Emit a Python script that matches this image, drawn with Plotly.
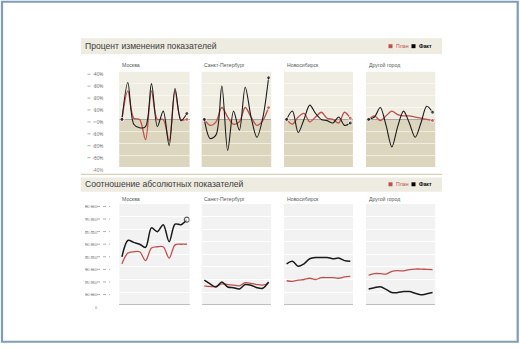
import plotly.graph_objects as go

W, H = 520, 350

cities = ["Москва", "Санкт-Петербург", "Новосибирск", "Другой город"]
months = list(range(12))

# Percent change (top row)
pct_plan = {
    "Москва": [0, 24, 1, 0, -17, 24, 0, 0, -18, 24, 0, 0],
    "Санкт-Петербург": [0, -5, -2, 10, 2, -4, -2, 10, 2, -5, -1, 10],
    "Новосибирск": [0, -4, 2, 5, -2, 2, 6, 1, 0, -3, 6, 1],
    "Другой город": [0, 3, -1, 3, 7, 4, 3, 3, 2, 1, 0, -1],
}
pct_fact = {
    "Москва": [0, 31, -4, -7, -6, 30, -6, 7, -22, 26, -1, 5],
    "Санкт-Петербург": [0, -16, -13, 28, -26, 7, -9, 27, 2, -15, 1, 35],
    "Новосибирск": [0, 7, -11, 0, 12, 5, 0, -1, -3, 2, -5, -3],
    "Другой город": [0, 2, 10, -5, -23, -6, 7, -3, -15, -3, 11, 6],
}

# Absolute values (bottom row)
abs_plan = {
    "Москва": [32500, 41000, 42000, 42000, 35000, 45000, 46000, 46000, 37000, 47500, 48000, 48000],
    "Санкт-Петербург": [15000, 14500, 14500, 16500, 16000, 15500, 15000, 17500, 17000, 16000, 15500, 17000],
    "Новосибирск": [19000, 18500, 19500, 20000, 21000, 20000, 21500, 21500, 21500, 21000, 22000, 22500],
    "Другой город": [23500, 24700, 24700, 24300, 26500, 27000, 26800, 27800, 28300, 28300, 28000, 27800],
}
abs_fact = {
    "Москва": [38000, 51000, 49500, 48000, 45500, 61000, 58000, 63500, 50000, 64000, 63500, 67500],
    "Санкт-Петербург": [19500, 16500, 14000, 18000, 14000, 13500, 12500, 16000, 15500, 13500, 13000, 18000],
    "Новосибирск": [32500, 34500, 30500, 32500, 36500, 37500, 37500, 37500, 36500, 37000, 35000, 34500],
    "Другой город": [12500, 13500, 14300, 12200, 9600, 9600, 10400, 10400, 9100, 7800, 8600, 9600],
}

pct_ticks = [-40, -30, -20, -10, 0, 10, 20, 30, 40]
pct_labels = ["-40%", "-30%", "-20%", "-10%", "0%", "10%", "20%", "30%", "40%"]
abs_ticks = [0, 10000, 20000, 30000, 40000, 50000, 60000, 70000, 80000]
abs_labels = ["0", "10 000", "20 000", "30 000", "40 000", "50 000", "60 000", "70 000", "80 000"]

title_top = "Процент изменения показателей"
title_bottom = "Соотношение абсолютных показателей"
legend_plan = "План"
legend_fact = "Факт"

PLAN_C = "#c0504d"
FACT_C = "#1a1a1a"
FONT = "Liberation Sans"

panel_x = [(119.3, 189.5), (201.7, 271.2), (284.0, 352.9), (366.0, 435.2)]
top_y = (73, 170)
bot_y = (207.5, 310)


def px(x):
    return x / W


def py(y):
    return 1 - y / H


fig = go.Figure()
layout = {}
shapes = []
annotations = []

top_unit = 80 / (top_y[1] - top_y[0])       # data units per pixel (top)
bot_unit = 80000 / (bot_y[1] - bot_y[0])    # data units per pixel (bottom)

for i, city in enumerate(cities):
    for row in (0, 1):
        n = i + 1 + row * 4
        xa = "x" if n == 1 else f"x{n}"
        ya = "y" if n == 1 else f"y{n}"
        xkey = "xaxis" if n == 1 else f"xaxis{n}"
        ykey = "yaxis" if n == 1 else f"yaxis{n}"
        x0, x1 = panel_x[i]
        yt, yb = top_y if row == 0 else bot_y
        layout[xkey] = dict(domain=[px(x0), px(x1)], anchor=ya, range=[-0.45, 11.45],
                            showgrid=False, zeroline=False, showticklabels=False,
                            showline=False, ticks="", fixedrange=True)
        first = (i == 0)
        if row == 0:
            layout[ykey] = dict(domain=[py(yb), py(yt)], anchor=xa, range=[-40, 40],
                                tickvals=pct_ticks, ticktext=pct_labels,
                                showticklabels=first, ticks="",
                                showgrid=True, gridcolor="rgba(255,255,255,0.55)", gridwidth=1,
                                zeroline=True, zerolinecolor="#a6a6a6", zerolinewidth=1,
                                showline=False, ticklabelstandoff=15, ticklabelshift=3,
                                tickfont=dict(family=FONT, size=4.6, color="#7f7f7f"),
                                fixedrange=True)
            shapes.append(dict(type="rect", xref=f"{xa} domain", yref=ya, x0=0, x1=1, y0=0, y1=40,
                               fillcolor="#f0ede2", line_width=0, layer="below"))
            shapes.append(dict(type="rect", xref=f"{xa} domain", yref=ya, x0=0, x1=1, y0=-40, y1=0,
                               fillcolor="#dcd6bf", line_width=0, layer="below"))
            plan = pct_plan[city]
            fact = pct_fact[city]
            msz = [4] + [0] * (len(months) - 2) + [4]
            fig.add_trace(go.Scatter(x=months, y=plan, xaxis=xa, yaxis=ya, mode="lines+markers",
                                     line=dict(color=PLAN_C, width=1.3, shape="spline", smoothing=0.9),
                                     marker=dict(size=msz, color=PLAN_C), showlegend=False,
                                     hoverinfo="skip"))
            fig.add_trace(go.Scatter(x=months, y=fact, xaxis=xa, yaxis=ya, mode="lines+markers",
                                     line=dict(color=FACT_C, width=1.1, shape="spline", smoothing=0.9),
                                     marker=dict(size=msz, color=FACT_C), showlegend=False,
                                     hoverinfo="skip"))
            if first:
                for t in pct_ticks:
                    yy = t - 2.5 * top_unit
                    shapes.append(dict(type="line", xref="paper", yref=ya, x0=px(87.5), x1=px(102.5),
                                       y0=yy, y1=yy,
                                       line=dict(color="#8c8c8c", width=0.7, dash="dot")))
        else:
            layout[ykey] = dict(domain=[py(yb), py(yt)], anchor=xa, range=[0, 80000],
                                tickvals=abs_ticks, ticktext=abs_labels,
                                showticklabels=first, ticks="",
                                showgrid=True, gridcolor="#ffffff", gridwidth=1,
                                zeroline=True, zerolinecolor="#bfbfbf", zerolinewidth=1,
                                showline=False, ticklabelstandoff=21, ticklabelshift=3,
                                tickfont=dict(family=FONT, size=4.0, color="#7f7f7f"),
                                fixedrange=True)
            plan = abs_plan[city]
            fact = abs_fact[city]
            fig.add_trace(go.Scatter(x=months, y=plan, xaxis=xa, yaxis=ya, mode="lines",
                                     line=dict(color=PLAN_C, width=1.3, shape="spline", smoothing=0.9),
                                     showlegend=False, hoverinfo="skip"))
            fmode = "lines+markers" if first else "lines"
            msz = [0] * (len(months) - 1) + [5]
            fig.add_trace(go.Scatter(x=months, y=fact, xaxis=xa, yaxis=ya, mode=fmode,
                                     line=dict(color=FACT_C, width=1.5, shape="spline", smoothing=0.9),
                                     marker=dict(size=msz, color="#ffffff",
                                                 line=dict(color=FACT_C, width=1.2)),
                                     showlegend=False, hoverinfo="skip"))
            if first:
                for t in abs_ticks:
                    yy = t - 2.5 * bot_unit
                    shapes.append(dict(type="line", xref="paper", yref=ya, x0=px(85), x1=px(110),
                                       y0=yy, y1=yy,
                                       line=dict(color="#8c8c8c", width=0.7, dash="dot")))
        ty = 66 if row == 0 else 202
        annotations.append(dict(text=city, xref="paper", yref="paper", x=px(x0 + 0.5), y=py(ty),
                                xanchor="left", yanchor="middle", showarrow=False,
                                font=dict(family=FONT, size=5.2, color="#595959")))

# header bands
shapes.append(dict(type="rect", xref="paper", yref="paper", x0=px(81), x1=px(442), y0=py(55), y1=py(39),
                   fillcolor="#eeebe0", line_width=0, layer="below"))
shapes.append(dict(type="line", xref="paper", yref="paper", x0=px(81), x1=px(442), y0=py(177.5), y1=py(177.5),
                   line=dict(color="#d8d1ba", width=1.2)))
shapes.append(dict(type="rect", xref="paper", yref="paper", x0=px(81), x1=px(442), y0=py(195), y1=py(180.5),
                   fillcolor="#eeebe0", line_width=0, layer="below"))

for ttl, cy in ((title_top, 47), (title_bottom, 187.5)):
    annotations.append(dict(text=ttl, xref="paper", yref="paper", x=px(83), y=py(cy),
                            xanchor="left", yanchor="middle", showarrow=False,
                            font=dict(family=FONT, size=8.6, color="#404040")))
    shapes.append(dict(type="rect", xref="paper", yref="paper", x0=px(388.5), x1=px(392.5),
                       y0=py(cy + 2), y1=py(cy - 2), fillcolor=PLAN_C, line_width=0))
    annotations.append(dict(text=legend_plan, xref="paper", yref="paper", x=px(393.5), y=py(cy),
                            xanchor="left", yanchor="middle", showarrow=False,
                            font=dict(family=FONT, size=5.2, color=PLAN_C)))
    shapes.append(dict(type="rect", xref="paper", yref="paper", x0=px(411.5), x1=px(415.5),
                       y0=py(cy + 2), y1=py(cy - 2), fillcolor="#000000", line_width=0))
    annotations.append(dict(text="<b>" + legend_fact + "</b>", xref="paper", yref="paper", x=px(416.5), y=py(cy),
                            xanchor="left", yanchor="middle", showarrow=False,
                            font=dict(family=FONT, size=5.2, color="#000000")))

# outer frame
shapes.append(dict(type="rect", xref="paper", yref="paper", x0=px(2), x1=px(517.7), y0=py(347.7), y1=py(1.8),
                   line=dict(color="#7f9cba", width=2.2), fillcolor="rgba(0,0,0,0)"))

fig.update_layout(width=W, height=H, margin=dict(l=0, r=0, t=0, b=0),
                  paper_bgcolor="#ffffff", plot_bgcolor="#f2f2f2",
                  shapes=shapes, annotations=annotations, showlegend=False, **layout)

fig.write_html("out.html", config={"displayModeBar": False})
